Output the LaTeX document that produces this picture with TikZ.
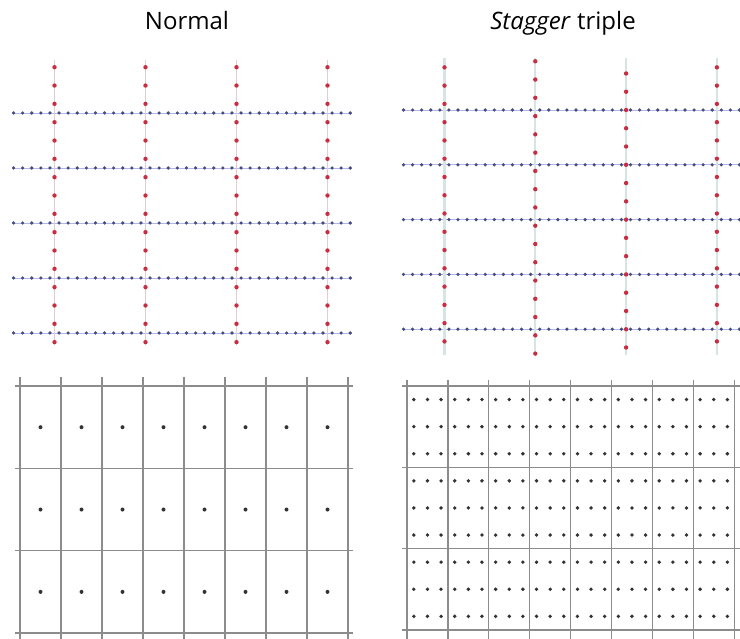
\documentclass[tikz,border=0pt]{standalone}
\usepackage{fontspec}
\setmainfont{Open Sans}
\definecolor{reddot}{RGB}{200,45,65}
\definecolor{bluedot}{RGB}{72,75,128}
\definecolor{blueline}{RGB}{178,183,230}
\definecolor{redline}{RGB}{228,205,210}
\definecolor{redlineB}{RGB}{215,228,228}
\definecolor{gridline}{RGB}{140,140,140}
\definecolor{griddot}{RGB}{50,50,50}
\begin{document}
\begin{tikzpicture}[x=1pt,y=-1pt,
  title/.style={font=\fontsize{24}{28}\selectfont, text=black, inner sep=0pt, anchor=base},
  bl/.style={draw=blueline, line width=0.8pt},
  rl/.style={draw=redline, line width=1.2pt},
  rlb/.style={draw=redlineB, line width=2.2pt},
  gl/.style={draw=gridline, line width=1.3pt},
  rd/.style={fill=reddot},
  bd/.style={fill=bluedot},
  gd/.style={fill=griddot}]
\useasboundingbox (0,0) rectangle (740,639);

% titles
\node[title] (tleft) at (187,30) {Normal};
\node[title] (tright) at (563,30) {\textit{Stagger} triple};

% ---------- top-left : Normal ----------
\foreach \k in {0,...,4} {
  \pgfmathsetmacro\yy{113+55*\k}
  \draw[bl] (12,\yy) -- (352,\yy);
}
\foreach \k in {0,...,3} {
  \pgfmathsetmacro\xx{54.5+91*\k}
  \draw[rl] (\xx,60) -- (\xx,345);
}
\foreach \k in {0,...,4} {
  \foreach \m in {0,...,37} {
    \fill[bd] ({13.55+9.1*\m},{113+55*\k}) circle (1.8pt);
  }
}
\foreach \k in {0,...,3} {
  \foreach \j in {0,...,15} {
    \fill[rd] ({54.5+91*\k},{67.2+18.33*\j}) circle (2.2pt);
  }
}

% ---------- top-right : Stagger triple ----------
\foreach \k in {0,...,4} {
  \pgfmathsetmacro\yy{110+54.8*\k}
  \draw[bl] (403,\yy) -- (740,\yy);
}
\foreach \k in {0,...,3} {
  \pgfmathsetmacro\xx{444.5+90.8*\k}
  \draw[rlb] (\xx,58) -- (\xx,355);
}
\foreach \k in {0,...,4} {
  \foreach \m in {0,...,37} {
    \pgfmathsetmacro\xx{403.5+9.08*\m}
    \ifdim\xx pt<740pt
      \fill[bd] (\xx,{110+54.8*\k}) circle (1.8pt);
    \fi
  }
}
\foreach \k/\o in {0/-6.1,1/6.1,2/0,3/-6.1} {
  \foreach \j in {0,...,16} {
    \pgfmathsetmacro\yy{110+\o-18.27*3+18.27*\j}
    \ifdim\yy pt>57pt
      \ifdim\yy pt<356pt
        \fill[rd] ({444.5+90.8*\k},\yy) circle (2.2pt);
      \fi
    \fi
  }
}

% ---------- bottom-left ----------
\foreach \k in {0,...,8} {
  \pgfmathsetmacro\xx{20+41*\k}
  \draw[gl] (\xx,377) -- (\xx,639);
}
\foreach \k in {0,...,3} {
  \pgfmathsetmacro\yy{386+82.33*\k}
  \draw[gl] (15,\yy) -- (353,\yy);
}
\foreach \i in {0,...,7} {
  \foreach \j in {0,...,2} {
    \fill[gd] ({40.5+41*\i},{427.2+82.33*\j}) circle (2pt);
  }
}

% ---------- bottom-right ----------
\foreach \k in {0,...,8} {
  \pgfmathsetmacro\xx{407+40.9*\k}
  \draw[gl] (\xx,380) -- (\xx,639);
}
\foreach \k in {0,...,3} {
  \pgfmathsetmacro\yy{386+81.3*\k}
  \draw[gl] (402,\yy) -- (740,\yy);
}
\foreach \i in {0,...,7} {
  \foreach \a in {0,1,2} {
    \foreach \j in {0,...,2} {
      \foreach \b in {0,1,2} {
        \fill[gd] ({407+40.9*\i+40.9*(1+2*\a)/6},{386+81.3*\j+81.3*(1+2*\b)/6}) circle (1.9pt);
      }
    }
  }
}
\end{tikzpicture}
\end{document}
